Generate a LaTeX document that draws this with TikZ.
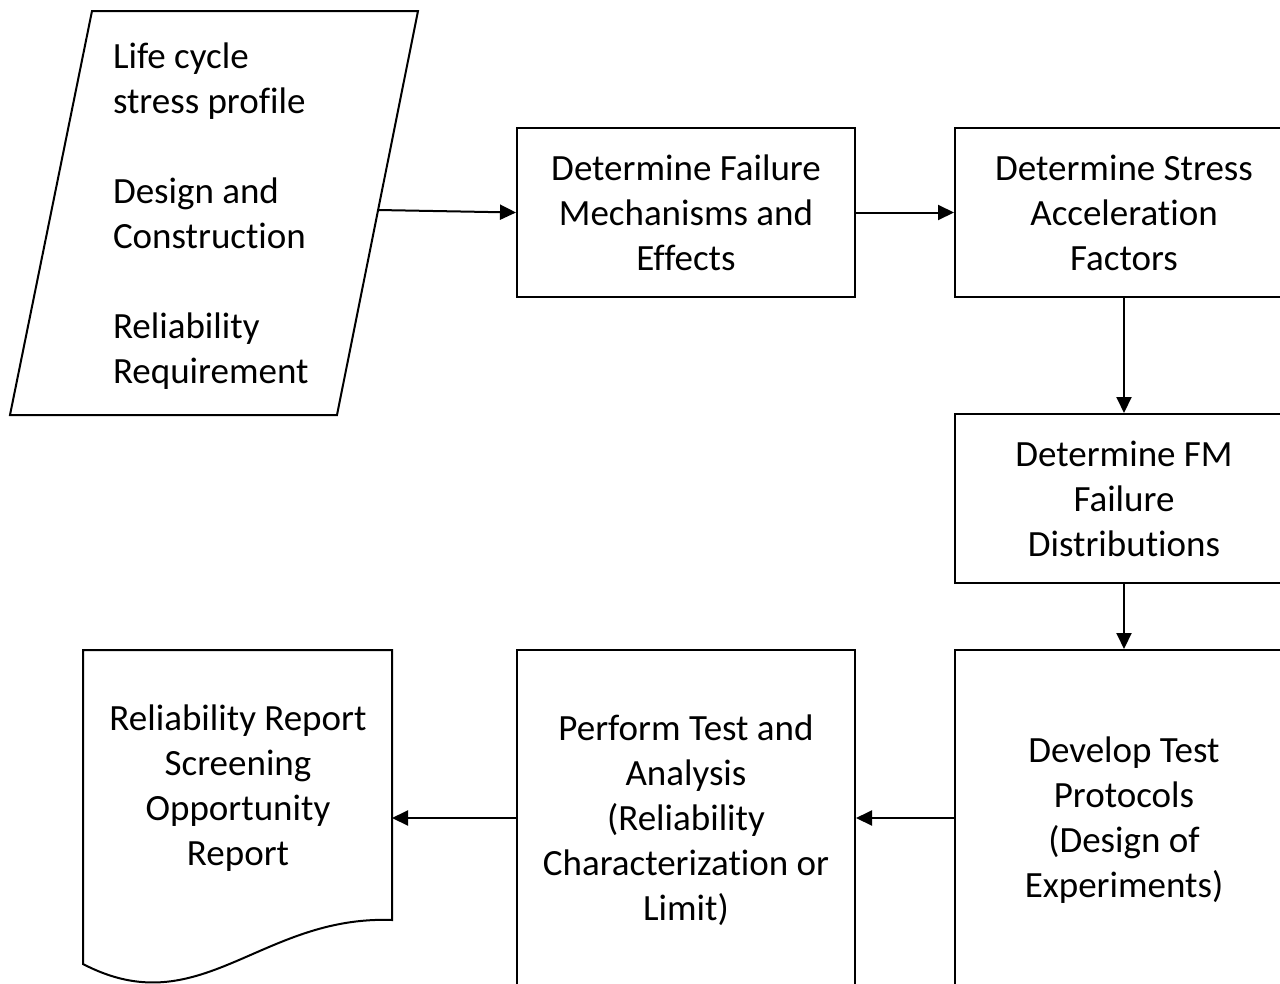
\documentclass[tikz,border=0pt]{standalone}
\usepackage{fontspec}
\setmainfont{Carlito}[RawFeature={-liga;-clig;-dlig;-calt;-ccmp}]
\usetikzlibrary{arrows.meta}
\begin{document}
\begin{tikzpicture}[x=1pt,y=-1pt,
  line width=2pt,
  every node/.style={font=\fontsize{37}{45}\selectfont},
  box/.style={draw,line width=2pt,minimum width=338pt,align=center,inner sep=0pt},
  conn/.style={line width=2pt,-{Triangle[length=16pt,width=15pt]}}]
\useasboundingbox (0,0) rectangle (1280,983);
\clip (0,0) rectangle (1280,983);
% parallelogram input
\draw (92,11) -- (418,11) -- (337,415) -- (10,415) -- cycle;
\node[anchor=west,align=left,inner sep=0pt] (inp) at (112,216) {Life cycle\\stress profile\\~\\Design and\\Construction\\~\\Reliability\\Requirement};
\coordinate (inpE) at (378,210);
% boxes
\node[box,minimum height=169pt] (b1) at (686,212.5) {Determine Failure\\Mechanisms and\\Effects};
\node[box,minimum height=169pt] (b2) at (1124,212.5) {Determine Stress\\Acceleration\\Factors};
\node[box,minimum height=169pt] (b3) at (1124,498.5) {Determine FM\\Failure\\Distributions};
\node[box,minimum height=340pt] (b4) at (1124,820) {Develop Test\\Protocols\\(Design of\\Experiments)};
\node[box,minimum height=340pt] (b5) at (686,820) {Perform Test and\\Analysis\\(Reliability\\Characterization or\\Limit)};
% document shape
\draw (83,650) -- (392,650) -- (392,920) .. controls (260,915) and (200,1025) .. (83,964) -- cycle;
\node[align=center,inner sep=0pt] (doc) at (238,788) {Reliability Report\\Screening\\Opportunity\\Report};
\coordinate (docE) at (392,818);
% connectors
\draw[conn] (inpE) -- (b1.west);
\draw[conn] (b1.east) -- (b2.west);
\draw[conn] (b2.south) -- (b3.north);
\draw[conn] (b3.south) -- (b4.north);
\draw[conn] (b4.west |- docE) -- (b5.east |- docE);
\draw[conn] (b5.west |- docE) -- (docE);
\end{tikzpicture}
\end{document}
